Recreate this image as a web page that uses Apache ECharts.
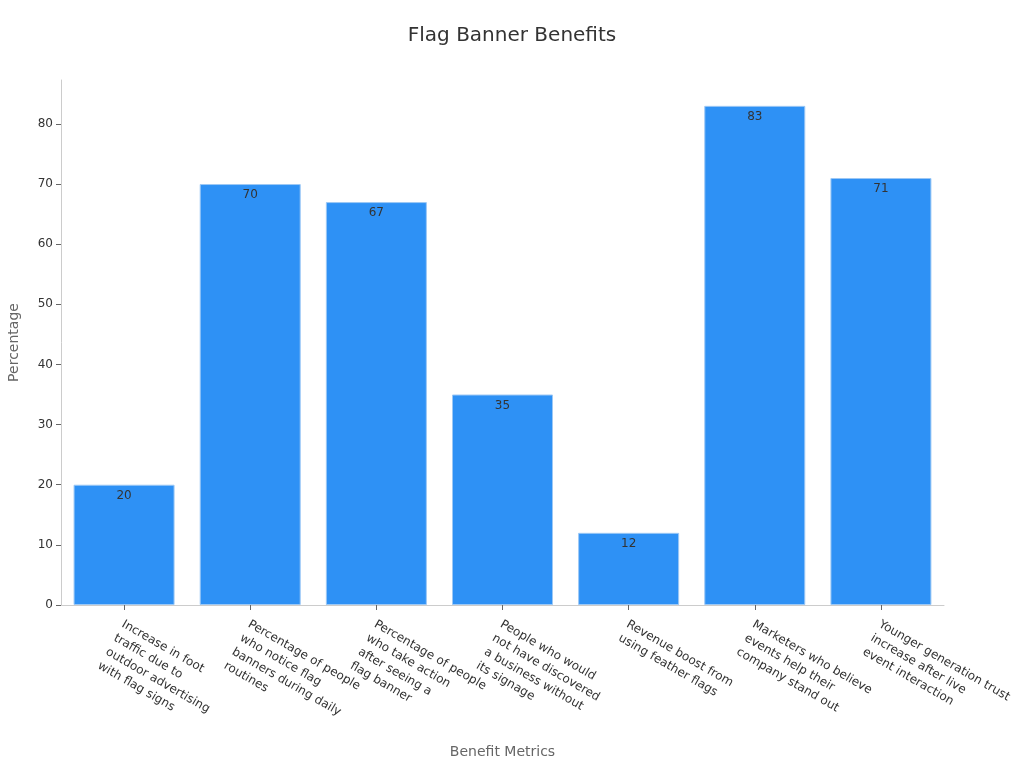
<!DOCTYPE html>
<html>
<head>
<meta charset="utf-8">
<script src="https://cdn.jsdelivr.net/npm/echarts@6/dist/echarts.min.js"></script>
<style>html,body{margin:0;padding:0;background:#fff}#c{width:1024px;height:768px}</style>
</head>
<body>
<div id="c"></div>
<script>
const categories = [
  "Increase in foot\ntraffic due to\noutdoor advertising\nwith flag signs",
  "Percentage of people\nwho notice flag\nbanners during daily\nroutines",
  "Percentage of people\nwho take action\nafter seeing a\nflag banner",
  "People who would\nnot have discovered\na business without\nits signage",
  "Revenue boost from\nusing feather flags",
  "Marketers who believe\nevents help their\ncompany stand out",
  "Younger generation trust\nincrease after live\nevent interaction"
];
const values = [20, 70, 67, 35, 12, 83, 71];
const yTicks = [0, 10, 20, 30, 40, 50, 60, 70, 80];

const chart = echarts.init(document.getElementById('c'), null, {renderer: 'canvas'});
chart.setOption({
  backgroundColor: '#fff',
  textStyle: {fontFamily: 'DejaVu Sans'},
  title: {
    text: 'Flag Banner Benefits', left: 'center', top: 21,
    textStyle: {fontSize: 20, fontWeight: 'normal', color: '#333', fontFamily: 'DejaVu Sans'}
  },
  grid: {left: 61, right: 80, top: 80, bottom: 163, containLabel: false, outerBoundsMode: 'none'},
  xAxis: {
    type: 'category', data: categories,
    name: 'Benefit Metrics', nameLocation: 'middle', nameGap: 140,
    nameTextStyle: {color: '#666', fontSize: 14},
    axisLine: {lineStyle: {color: '#ccc'}},
    axisTick: {show: true, alignWithLabel: true, lineStyle: {color: '#666'}},
    axisLabel: {rotate: -30, color: '#333', fontSize: 12, lineHeight: 16, interval: 0, margin: 10,
      verticalAlign: 'top', align: 'left', padding: [0, 0, 0, 3]}
  },
  yAxis: {
    type: 'value', min: 0, max: 87.3, interval: 10,
    name: 'Percentage', nameLocation: 'middle', nameGap: 40,
    nameTextStyle: {color: '#666', fontSize: 14},
    axisLine: {show: true, lineStyle: {color: '#ccc'}},
    axisTick: {show: true, lineStyle: {color: '#666'}},
    axisLabel: {color: '#333', fontSize: 12, showMaxLabel: false,
      formatter: v => yTicks.includes(v) ? String(v) : ''},
    splitLine: {show: false}
  },
  series: [{
    type: 'bar', data: values, barWidth: 101,
    itemStyle: {color: '#2E91F5', borderColor: '#9CC8F5', borderWidth: 1},
    label: {show: true, position: 'insideTop', color: '#333', fontSize: 12}
  }]
});
</script>
</body>
</html>
